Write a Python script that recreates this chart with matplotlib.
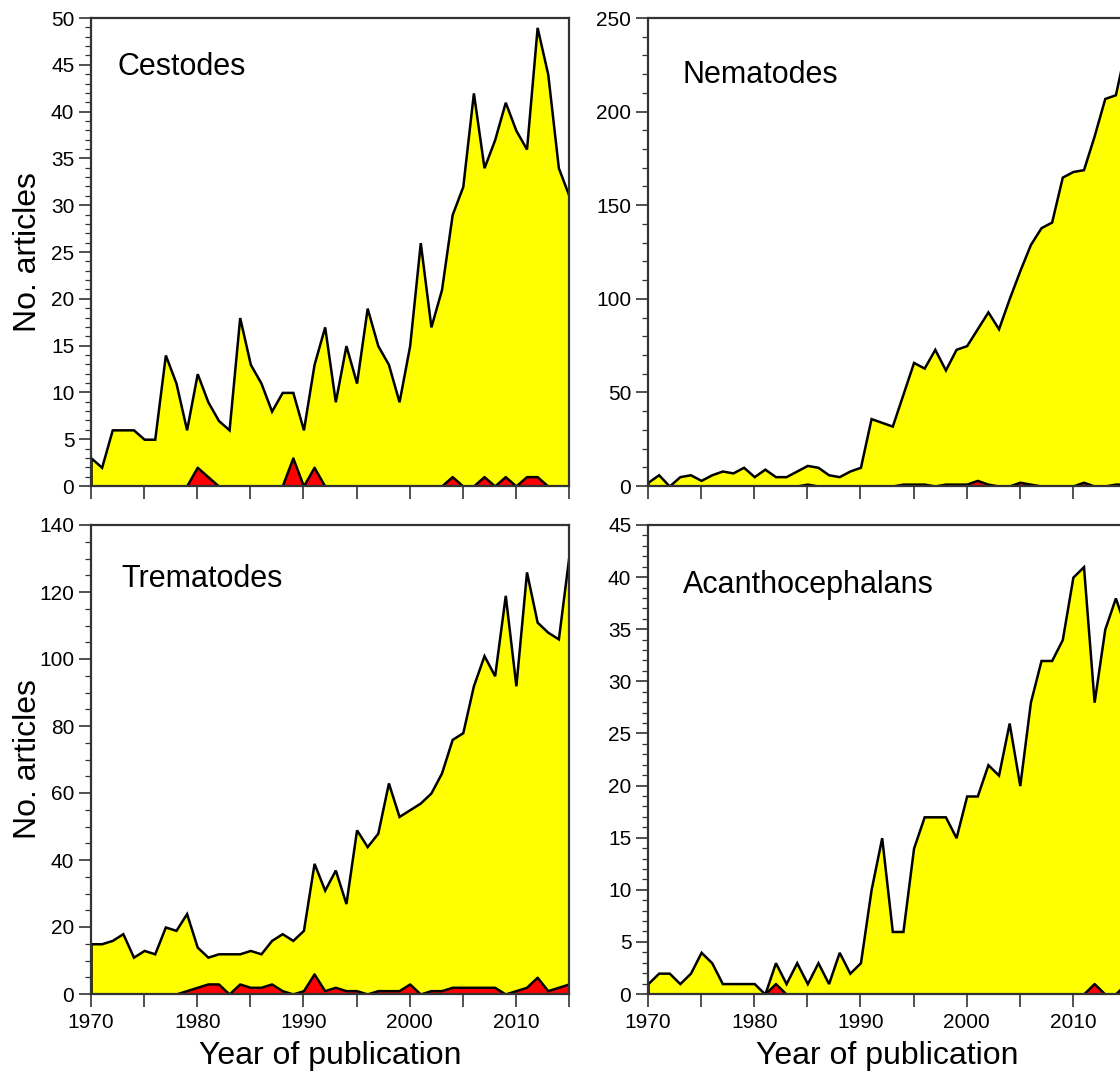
import matplotlib
matplotlib.use("Agg")
import matplotlib.pyplot as plt
import numpy as np
from matplotlib.ticker import MultipleLocator

plt.rcParams['font.family'] = ['Liberation Sans', 'DejaVu Sans']

years = list(range(1970, 2016))

cestodes_total = [3, 2, 6, 6, 6, 5, 5, 14, 11, 6, 12, 9, 7, 6, 18, 13, 11, 8, 10, 10,
                  6, 13, 17, 9, 15, 11, 19, 15, 13, 9, 15, 26, 17, 21, 29, 32, 42, 34, 37, 41,
                  38, 36, 49, 44, 34, 31]
cestodes_red = [0, 0, 0, 0, 0, 0, 0, 0, 0, 0, 2, 1, 0, 0, 0, 0, 0, 0, 0, 3,
                0, 2, 0, 0, 0, 0, 0, 0, 0, 0, 0, 0, 0, 0, 1, 0, 0, 1, 0, 1,
                0, 1, 1, 0, 0, 0]

nematodes_total = [2, 6, 0, 5, 6, 3, 6, 8, 7, 10, 5, 9, 5, 5, 8, 11, 10, 6, 5, 8,
                   10, 36, 34, 32, 49, 66, 63, 73, 62, 73, 75, 84, 93, 84, 100, 115, 129, 138, 141, 165,
                   168, 169, 187, 207, 209, 235]
nematodes_red = [0, 0, 0, 0, 0, 0, 0, 0, 0, 0, 0, 0, 0, 0, 0, 1, 0, 0, 0, 0,
                 0, 0, 0, 0, 1, 1, 1, 0, 1, 1, 1, 3, 1, 0, 0, 2, 1, 0, 0, 0,
                 0, 2, 0, 0, 1, 1]

trematodes_total = [15, 15, 16, 18, 11, 13, 12, 20, 19, 24, 14, 11, 12, 12, 12, 13, 12, 16, 18, 16,
                    19, 39, 31, 37, 27, 49, 44, 48, 63, 53, 55, 57, 60, 66, 76, 78, 92, 101, 95, 119,
                    92, 126, 111, 108, 106, 131]
trematodes_red = [0, 0, 0, 0, 0, 0, 0, 0, 0, 1, 2, 3, 3, 0, 3, 2, 2, 3, 1, 0,
                  1, 6, 1, 2, 1, 1, 0, 1, 1, 1, 3, 0, 1, 1, 2, 2, 2, 2, 2, 0,
                  1, 2, 5, 1, 2, 3]

acantho_total = [1, 2, 2, 1, 2, 4, 3, 1, 1, 1, 1, 0, 3, 1, 3, 1, 3, 1, 4, 2,
                 3, 10, 15, 6, 6, 14, 17, 17, 17, 15, 19, 19, 22, 21, 26, 20, 28, 32, 32, 34,
                 40, 41, 28, 35, 38, 35]
acantho_red = [0, 0, 0, 0, 0, 0, 0, 0, 0, 0, 0, 0, 1, 0, 0, 0, 0, 0, 0, 0,
               0, 0, 0, 0, 0, 0, 0, 0, 0, 0, 0, 0, 0, 0, 0, 0, 0, 0, 0, 0,
               0, 0, 1, 0, 0, 1]

panel_names = ["Cestodes", "Nematodes", "Trematodes", "Acanthocephalans"]
x_tick_labels = ["1970", "", "1980", "", "1990", "", "2000", "", "2010", ""]
x_label = "Year of publication"
y_label = "No. articles"

W, H = 1120, 1082
fig = plt.figure(figsize=(W / 100, H / 100), dpi=100)

def frac(left, top, right, bottom):
    return [left / W, 1 - bottom / H, (right - left) / W, (bottom - top) / H]

panels = [
    dict(total=cestodes_total, red=cestodes_red, name=panel_names[0], ymax=50, major=5, minor=1,
         rect=frac(91, 18, 569, 486), txt=(0.056, 0.878), ylab=True, xlab=False),
    dict(total=nematodes_total, red=nematodes_red, name=panel_names[1], ymax=250, major=50, minor=10,
         rect=frac(648, 18, 1126, 486), txt=(0.073, 0.862), ylab=False, xlab=False),
    dict(total=trematodes_total, red=trematodes_red, name=panel_names[2], ymax=140, major=20, minor=5,
         rect=frac(91, 525, 569, 994), txt=(0.063, 0.868), ylab=True, xlab=True),
    dict(total=acantho_total, red=acantho_red, name=panel_names[3], ymax=45, major=5, minor=1,
         rect=frac(648, 525, 1126, 994), txt=(0.073, 0.856), ylab=False, xlab=True),
]

spine_col = "#333333"
for p in panels:
    ax = fig.add_axes(p["rect"])
    ax.fill_between(years, 0, p["total"], facecolor="#FFFF00", edgecolor="black",
                    linewidth=1.8, joinstyle="miter", zorder=2)
    ax.fill_between(years, 0, p["red"], facecolor="#FF0000", edgecolor="black",
                    linewidth=1.8, zorder=3)
    ax.set_xlim(1970, 2015)
    ax.set_ylim(0, p["ymax"])
    ax.yaxis.set_major_locator(MultipleLocator(p["major"]))
    ax.yaxis.set_minor_locator(MultipleLocator(p["minor"]))
    ax.set_xticks(list(range(1970, 2016, 5)))
    if p["xlab"]:
        ax.set_xticklabels(x_tick_labels)
        ax.text(0.5, -0.133, x_label, transform=ax.transAxes, ha="center", va="center",
                fontsize=23)
    else:
        ax.set_xticklabels([])
    if p["ylab"]:
        ax.text(-0.132, 0.5, y_label, transform=ax.transAxes, ha="center", va="center",
                rotation=90, fontsize=23)
    ax.tick_params(axis="both", which="major", direction="out", length=9, width=1.2,
                   color=spine_col, labelsize=15, pad=3)
    ax.tick_params(axis="y", which="minor", direction="out", length=4.5, width=0.9,
                   color=spine_col)
    ax.tick_params(axis="x", which="major", pad=5)
    ax.tick_params(top=False, right=False)
    for s in ax.spines.values():
        s.set_linewidth(1.6)
        s.set_color(spine_col)
        s.set_zorder(5)
    ax.text(p["txt"][0], p["txt"][1], p["name"], transform=ax.transAxes, ha="left",
            va="baseline", fontsize=22, zorder=6)

fig.savefig("out.png", dpi=100)
